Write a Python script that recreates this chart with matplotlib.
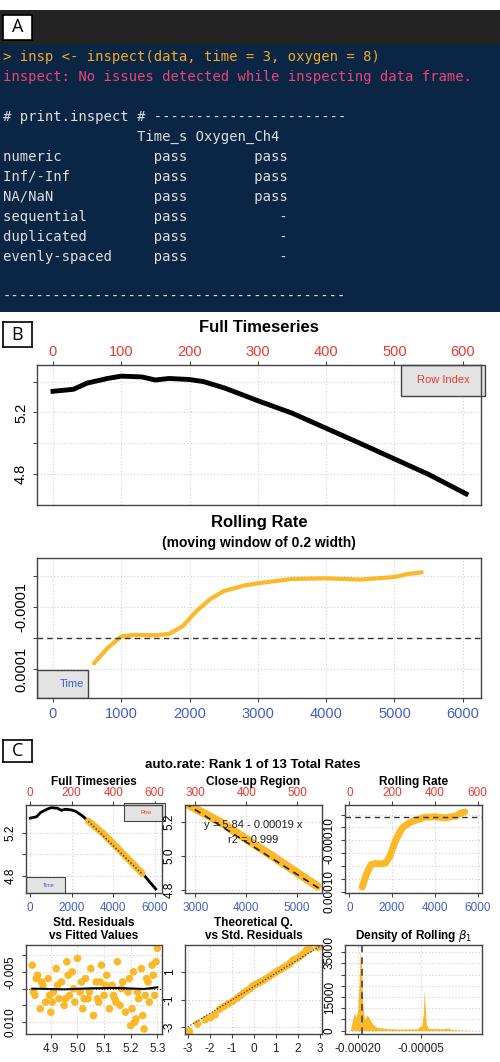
import matplotlib
matplotlib.use("Agg")
import matplotlib.pyplot as plt
import numpy as np
from matplotlib.patches import Rectangle

plt.rcParams['font.family'] = ['Liberation Sans', 'DejaVu Sans']
plt.rcParams['axes.unicode_minus'] = False

# ---------------- data ----------------
console_lines = [
    ("> insp <- inspect(data, time = 3, oxygen = 8)", "#f0a82a"),
    ("inspect: No issues detected while inspecting data frame.", "#e8457a"),
    ("", "#dddddd"),
    ("# print.inspect # -----------------------", "#dddddd"),
    ("                Time_s Oxygen_Ch4", "#dddddd"),
    ("numeric           pass        pass", "#dddddd"),
    ("Inf/-Inf          pass        pass", "#dddddd"),
    ("NA/NaN            pass        pass", "#dddddd"),
    ("sequential        pass           -", "#dddddd"),
    ("duplicated        pass           -", "#dddddd"),
    ("evenly-spaced     pass           -", "#dddddd"),
    ("", "#dddddd"),
    ("-----------------------------------------", "#dddddd"),
]

time_s = [0, 300, 500, 800, 1000, 1300, 1500, 1700, 2000, 2200, 2500, 2800, 3000, 3500,
          4000, 4500, 5000, 5500, 6050]
oxygen = [5.337, 5.35, 5.39, 5.42, 5.435, 5.43, 5.41, 5.42, 5.413, 5.40, 5.36, 5.31, 5.276,
          5.196, 5.098, 5.00, 4.90, 4.80, 4.674]

roll_t = [600, 800, 1000, 1200, 1500, 1700, 1900, 2100, 2300, 2500, 2800, 3000, 3500,
          4000, 4500, 5000, 5200, 5400]
roll_rate = [0.000081, 0.000032, -0.000005, -0.00001, -0.000009, -0.000013, -0.000038,
             -0.000086, -0.000124, -0.00015, -0.000168, -0.000175, -0.000189, -0.000191,
             -0.000187, -0.000195, -0.000205, -0.00021]

sub_start, sub_end = 2800, 5450
fit_b0, fit_b1, fit_r2 = 5.84, -0.00019, 0.999

fitted = [4.83, 4.84, 4.85, 4.86, 4.87, 4.88, 4.89, 4.90, 4.91, 4.92, 4.93, 4.94, 4.95,
          4.96, 4.97, 4.98, 4.99, 5.00, 5.01, 5.02, 5.03, 5.04, 5.05, 5.06, 5.07, 5.08,
          5.09, 5.10, 5.11, 5.12, 5.13, 5.14, 5.15, 5.16, 5.17, 5.18, 5.19, 5.20, 5.21,
          5.22, 5.23, 5.24, 5.25, 5.26, 5.27, 5.28, 5.29, 5.30,
          4.835, 4.865, 4.895, 4.925, 4.955, 4.985, 5.015, 5.045, 5.075, 5.105, 5.135,
          5.165, 5.195, 5.225, 5.255, 5.285, 4.845, 4.905, 4.965, 5.025, 5.085, 5.145,
          5.205, 5.265, 5.295, 5.215, 5.245]
resid = [-0.007, 0.002, -0.004, 0.006, -0.001, 0.004, -0.003, 0.007, 0.001, -0.006, 0.003,
         -0.002, 0.005, -0.008, 0.002, -0.005, 0.004, -0.009, 0.001, 0.006, -0.003, 0.003,
         -0.006, 0.008, -0.002, 0.004, -0.007, 0.002, -0.004, 0.006, -0.001, 0.003, -0.008,
         0.005, -0.002, 0.007, 0.001, 0.011, -0.005, 0.009, 0.003, -0.006, 0.012, -0.003,
         0.004, -0.007, 0.002, -0.012,
         0.001, -0.002, 0.002, -0.001, 0.003, 0.000, -0.002, 0.001, 0.003, -0.001, 0.002,
         0.000, -0.003, 0.001, 0.002, -0.004, -0.003, 0.004, -0.004, 0.003, -0.002, 0.004,
         0.006, -0.002, -0.008, 0.010, 0.008]
smooth_x = [4.83, 4.95, 5.05, 5.15, 5.25, 5.30]
smooth_y = [0.0000, 0.0002, -0.0001, -0.0002, 0.0001, -0.0004]

qq_theo = [-2.92, -2.55, -2.2, -1.95, -1.75, -1.55, -1.35, -1.15, -0.95, -0.75, -0.6,
           -0.45, -0.3, -0.15, -0.04, 0.1, 0.25, 0.4, 0.55, 0.7, 0.85, 1.03, 1.2, 1.35,
           1.5, 1.65, 1.79, 1.95, 2.1, 2.25, 2.4, 2.55, 2.93]
qq_samp = [-3.3, -2.76, -2.45, -2.3, -2.1, -1.7, -1.5, -1.3, -1.12, -0.9, -0.7, -0.5,
           -0.35, -0.2, -0.02, 0.1, 0.22, 0.35, 0.5, 0.65, 0.82, 1.0, 1.15, 1.3, 1.45,
           1.6, 1.85, 1.95, 2.1, 2.3, 2.58, 2.65, 2.78]

dens_x = [-0.000218, -0.000213, -0.000208, -0.000204, -0.000200, -0.000197, -0.000194,
          -0.000191, -0.000188, -0.000184, -0.000178, -0.000172, -0.000165, -0.000155,
          -0.00013, -0.0001, -0.00006, -0.000048, -0.000045, -0.000043, -0.000041,
          -0.000038, -0.000033, 0.0, 0.000015, 0.00002, 0.00008]
dens_y = [0, 4000, 8000, 6000, 9000, 20000, 36000, 30000, 12000, 5000, 7000, 5500, 3000,
          1500, 900, 700, 800, 2500, 8000, 18000, 12000, 3000, 1000, 800, 1200, 500, 0]

ORANGE = '#FBB829'
RED = '#e8392f'
BLUE = '#3f5fc8'

# ---------------- figure ----------------
W, H = 500, 1062
fig = plt.figure(figsize=(W / 100, H / 100), dpi=100)
fig.patch.set_facecolor('white')


def ax_px(x0, y0, x1, y1, **kw):
    return fig.add_axes([x0 / W, 1 - y1 / H, (x1 - x0) / W, (y1 - y0) / H], **kw)


def label_box(x0, y0, x1, y1, txt):
    a = ax_px(x0, y0, x1, y1)
    a.set_xticks([]); a.set_yticks([])
    a.set_facecolor('white')
    for s in a.spines.values():
        s.set_linewidth(1.2)
    a.text(0.5, 0.5, txt, ha='center', va='center', fontsize=13, family='Open Sans',
           transform=a.transAxes)


def fig_text(x, y, s, **kw):
    fig.text(x / W, 1 - y / H, s, ha='center', va='center', **kw)


# ---- Panel A ----
hdr = ax_px(0, 10, 500, 44)
hdr.set_facecolor('#232323'); hdr.set_xticks([]); hdr.set_yticks([])
for s in hdr.spines.values():
    s.set_visible(False)
con = ax_px(0, 44, 500, 312)
con.set_facecolor('#0b2645'); con.set_xticks([]); con.set_yticks([])
for s in con.spines.values():
    s.set_visible(False)
con.set_xlim(0, 500); con.set_ylim(312, 44)
for i, (txt, col) in enumerate(console_lines):
    con.text(3, 57 + 20 * i, txt, color=col, fontsize=10, family='DejaVu Sans Mono',
             va='center', ha='left')
label_box(3, 15, 32, 40, 'A')

# ---- Panel B ----
label_box(3, 322, 32, 347, 'B')


def style(a, fs=10):
    a.grid(True, color='#cfcfcf', linestyle=(0, (1, 2)), linewidth=0.8)
    a.set_axisbelow(True)
    for s in a.spines.values():
        s.set_color('#444444'); s.set_linewidth(1.0)
    a.tick_params(axis='both', labelsize=fs, length=3, color='#444444')
    a.tick_params(axis='x', labelcolor=BLUE)
    for t in a.get_yticklabels():
        t.set_rotation(90); t.set_va('center')


def toprow(a, fs, ticks):
    sec = a.secondary_xaxis('top', functions=(lambda t: t / 10, lambda r: r * 10))
    sec.set_xticks(ticks)
    sec.tick_params(labelsize=fs, labelcolor=RED, length=3, color='#444444', pad=1)
    sec.spines['top'].set_visible(False)
    return sec


a1 = ax_px(37, 365, 481, 505)
a1.plot(time_s, oxygen, color='black', lw=3.5)
a1.set_xlim(-234, 6268); a1.set_ylim(4.602, 5.507)
a1.set_xticks(range(0, 6001, 1000)); a1.set_xticklabels([])
a1.set_yticks([4.8, 5.0, 5.2, 5.4]); a1.set_yticklabels(['4.8', '', '5.2', ''])
style(a1, 10.5)
a1.tick_params(axis='x', length=0)
toprow(a1, 10.5, range(0, 601, 100))
fig_text(259, 328, 'Full Timeseries', fontsize=12, fontweight='bold')
a1.add_patch(Rectangle((0.82, 0.78), 0.19, 0.22, transform=a1.transAxes, facecolor='#e3e3e3',
                       edgecolor='#444444', lw=1, clip_on=False))
a1.text(0.975, 0.89, 'Row Index', color=RED, fontsize=8, ha='right', va='center',
        transform=a1.transAxes)

a2 = ax_px(37, 558, 481, 698)
a2.plot(roll_t, roll_rate, color=ORANGE, lw=3, solid_capstyle='round')
a2.axhline(0, color='#333333', ls=(0, (4, 3)), lw=1)
a2.set_xlim(-234, 6268); a2.set_ylim(0.000192, -0.000256)
a2.set_xticks(range(0, 6001, 1000))
a2.set_yticks([-0.0002, -0.0001, 0, 0.0001])
a2.set_yticklabels(['', '-0.0001', '', '0.0001'])
style(a2, 10.5)
fig_text(259, 523, 'Rolling Rate', fontsize=12, fontweight='bold')
fig_text(259, 543, '(moving window of 0.2 width)', fontsize=10, fontweight='bold')
a2.add_patch(Rectangle((0, 0), 0.115, 0.2, transform=a2.transAxes, facecolor='#e3e3e3',
                       edgecolor='#444444', lw=1))
a2.text(0.078, 0.1, 'Time', color=BLUE, fontsize=8, ha='center', va='center',
        transform=a2.transAxes)

# ---- Panel C ----
label_box(3, 740, 32, 762, 'C')
fig_text(253, 765, 'auto.rate: Rank 1 of 13 Total Rates', fontsize=9.5, fontweight='bold')

FS = 8.5
r1 = (805, 893)
r2 = (945, 1034)
c1 = (26, 162); c2 = (185, 322); c3 = (345, 482)


def ctitle(col, y, s):
    fig_text((col[0] + col[1]) / 2, y, s, fontsize=8.5, fontweight='bold')


# Full timeseries
b1 = ax_px(c1[0], r1[0], c1[1], r1[1])
b1.plot(time_s, oxygen, color='black', lw=2)
ts = np.array(time_s, dtype=float); ox = np.array(oxygen)
xs = np.linspace(sub_start, 5400, 30)
b1.plot(xs, np.interp(xs, ts, ox), color=ORANGE, lw=5, solid_capstyle='round')
b1.plot(xs, fit_b0 + fit_b1 * xs, color='#333333', ls=(0, (1, 1.5)), lw=1)
b1.set_xlim(-208, 6352); b1.set_ylim(4.637, 5.46)
b1.set_xticks([0, 2000, 4000, 6000])
b1.set_yticks([4.8, 5.0, 5.2]); b1.set_yticklabels(['4.8', '', '5.2'])
style(b1, FS)
toprow(b1, FS, [0, 200, 400, 600])
ctitle(c1, 782, 'Full Timeseries')
b1.add_patch(Rectangle((0.72, 0.82), 0.3, 0.2, transform=b1.transAxes, facecolor='#e3e3e3',
                       edgecolor='#444444', lw=0.8, clip_on=False))
b1.text(0.88, 0.92, 'Row', color=RED, fontsize=4, ha='center', va='center',
        transform=b1.transAxes)
b1.add_patch(Rectangle((0, 0), 0.29, 0.18, transform=b1.transAxes, facecolor='#e3e3e3',
                       edgecolor='#444444', lw=0.8))
b1.text(0.17, 0.08, 'Time', color=BLUE, fontsize=4, ha='center', va='center',
        transform=b1.transAxes)

# Close-up
b2 = ax_px(c2[0], r1[0], c2[1], r1[1])
b2.plot(xs, np.interp(xs, ts, ox), color=ORANGE, lw=6, solid_capstyle='round')
xf = np.array([2796, 5493])
b2.plot(xf, fit_b0 + fit_b1 * xf, color='#222222', ls=(0, (4, 3)), lw=1.2)
b2.set_xlim(2796, 5493); b2.set_ylim(4.78, 5.298)
b2.set_xticks([3000, 4000, 5000]); b2.set_yticks([4.8, 5.0, 5.2])
style(b2, FS)
toprow(b2, FS, [300, 400, 500])
ctitle(c2, 782, 'Close-up Region')
b2.text(0.5, 0.77, f'y = {fit_b0} - {abs(fit_b1)} x', ha='center', va='center', fontsize=8,
        transform=b2.transAxes, color='#222222')
b2.text(0.5, 0.6, f'r2 = {fit_r2}', ha='center', va='center', fontsize=8,
        transform=b2.transAxes, color='#222222')

# Rolling rate
b3 = ax_px(c3[0], r1[0], c3[1], r1[1])
b3.plot(roll_t, roll_rate, color=ORANGE, lw=5, solid_capstyle='round')
b3.axhline(fit_b1, color='#333333', ls=(0, (4, 3)), lw=1)
b3.set_xlim(-203, 6203); b3.set_ylim(0.000104, -0.000237)
b3.set_xticks([0, 2000, 4000, 6000])
b3.set_yticks([-0.0002, -0.00015, -0.0001, -0.00005, 0, 0.00005, 0.0001])
b3.set_yticklabels(['', '', '-0.00010', '', '', '', '0.00010'])
style(b3, FS)
toprow(b3, FS, [0, 200, 400, 600])
ctitle(c3, 782, 'Rolling Rate')

# Residuals
d1 = ax_px(c1[0], r2[0], c1[1], r2[1])
d1.scatter(fitted, resid, s=30, color=ORANGE, edgecolors='none')
d1.plot(smooth_x, smooth_y, color='black', lw=1.5)
d1.axhline(0, color='#333333', ls=(0, (1, 1.5)), lw=0.8)
d1.set_xlim(4.8065, 5.3175); d1.set_ylim(0.0135, -0.013)
d1.set_xticks([4.9, 5.0, 5.1, 5.2, 5.3])
d1.set_yticks([-0.01, -0.005, 0, 0.005, 0.01])
d1.set_yticklabels(['', '-0.005', '', '', '0.010'])
style(d1, FS)
d1.tick_params(axis='x', labelcolor='#222222')
ctitle(c1, 923, 'Std. Residuals')
ctitle(c1, 936, 'vs Fitted Values')

# QQ
d2 = ax_px(c2[0], r2[0], c2[1], r2[1])
d2.scatter(qq_theo, qq_samp, s=30, color=ORANGE, edgecolors='none')
d2.plot([-3.12, 3.11], [-3.1, 2.95], color='#333333', ls=(0, (1, 1.5)), lw=0.9)
d2.set_xlim(-3.12, 3.11); d2.set_ylim(-3.49, 2.95)
d2.set_xticks(range(-3, 4)); d2.set_yticks([-3, -1, 1])
style(d2, FS)
d2.tick_params(axis='x', labelcolor='#222222')
ctitle(c2, 923, 'Theoretical Q.')
ctitle(c2, 936, 'vs Std. Residuals')

# Density
d3 = ax_px(c3[0], r2[0], c3[1], r2[1])
d3.fill_between(dens_x, dens_y, color=ORANGE, lw=0)
d3.axvline(-0.00019, color='#444444', ls=(0, (4, 3)), lw=1.2)
d3.set_xlim(-0.00023, 0.0000937); d3.set_ylim(-1500, 38250)
d3.set_xticks([-0.0002, -0.00005])
d3.set_xticklabels(['-0.00020', '-0.00005'])
d3.set_yticks([0, 5000, 10000, 15000, 20000, 25000, 30000, 35000])
d3.set_yticklabels(['0', '', '', '15000', '', '', '', '35000'])
style(d3, FS)
d3.tick_params(axis='x', labelcolor='#222222')
ctitle(c3, 936, r'Density of Rolling $\beta_1$')

fig.savefig('out.png', dpi=100, facecolor='white')
